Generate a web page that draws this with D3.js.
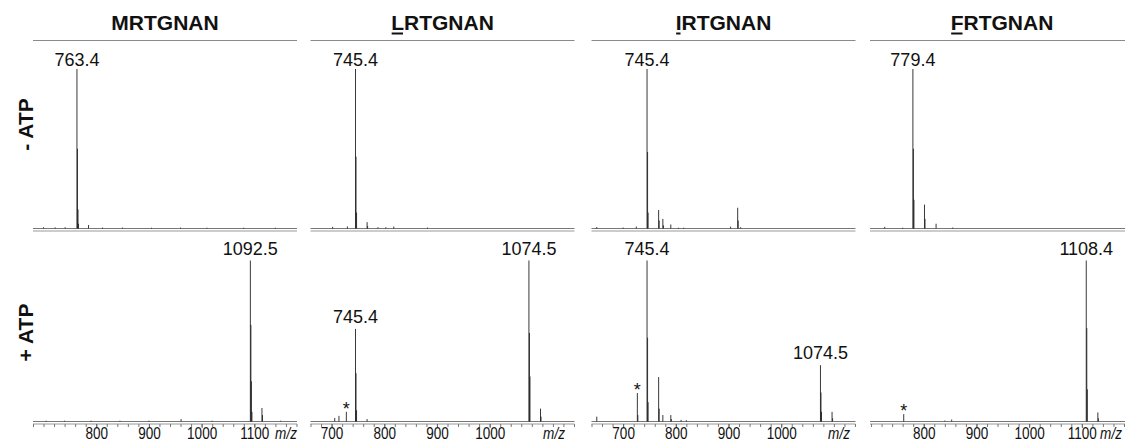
<!DOCTYPE html>
<html><head><meta charset="utf-8">
<script src="https://cdn.jsdelivr.net/npm/d3@7"></script>
<style>body{margin:0;background:#fff} svg{display:block}</style>
</head><body><svg id="c" width="1125" height="442"></svg>
<script>
// ---------- data ----------
const peptides = ["MRTGNAN", "LRTGNAN", "IRTGNAN", "FRTGNAN"];
const underlinedFirst = [false, true, true, true];
const conditions = ["- ATP", "+ ATP"];
const mzDomains = [[680, 1181], [660, 1161], [640, 1141], [698, 1199]];
const tickLabels = [[800, 900, 1000, 1100], [700, 800, 900, 1000], [700, 800, 900, 1000], [800, 900, 1000, 1100]];

// - ATP spectra (m/z, relative intensity %)
const mrtMinusMz  = [700, 722, 741, 763.4, 764.4, 765.4, 766.4, 785.4, 812, 850, 905, 960, 1010, 1080, 1140];
const mrtMinusInt = [0.8, 0.7, 0.8, 100, 50, 12, 3, 2.2, 0.6, 0.6, 0.5, 0.6, 0.5, 0.5, 0.5];
const lrtMinusMz  = [702, 730, 745.4, 746.4, 747.4, 767.4, 768.4, 788, 803, 818, 882];
const lrtMinusInt = [1, 1.3, 100, 45, 10, 4, 1.5, 0.8, 0.8, 1.2, 0.6];
const irtMinusMz  = [650, 700, 725, 745.4, 746.4, 747.4, 767.4, 768.4, 775.4, 776.4, 790.5, 805, 815, 904, 917.4, 918.4, 923];
const irtMinusInt = [0.9, 0.6, 1.2, 100, 48, 10, 11.6, 5, 6, 2, 2.5, 0.5, 0.5, 1.2, 13, 5, 0.8];
const frtMinusMz  = [726, 760, 779.4, 780.4, 781.4, 801.4, 802.4, 823.4, 855];
const frtMinusInt = [1, 0.5, 100, 50, 18, 15, 6, 3, 0.6];

// + ATP spectra
const mrtPlusMz  = [705, 740, 790, 845, 900, 961, 1020, 1092.5, 1093.5, 1094.5, 1095.5, 1114.5, 1115.5, 1150];
const mrtPlusInt = [0.5, 0.5, 0.5, 0.5, 0.5, 1.5, 0.5, 100, 60, 25, 6, 8.4, 4, 0.5];
const lrtPlusMz  = [706, 714, 728, 745.4, 746.4, 747.4, 767.4, 1074.5, 1075.5, 1076.5, 1096.5, 1097.5];
const lrtPlusInt = [2.2, 3.5, 6, 57.5, 30, 7, 1.5, 100, 55, 28, 8, 3];
const irtPlusMz  = [650, 727, 728, 745.4, 746.4, 747.4, 767.4, 768.4, 775.4, 790.5, 791.5, 810, 820, 1074.5, 1075.5, 1076.5, 1096.5, 1097.5];
const irtPlusInt = [3, 17.7, 4, 100, 52, 12, 27.6, 8, 4, 4, 1.5, 1, 0.8, 35, 18, 6, 6, 2];
const frtPlusMz  = [762, 840, 853, 1108.4, 1109.4, 1110.4, 1130.4, 1131.4];
const frtPlusInt = [4.6, 0.6, 1.2, 100, 58, 20, 5.6, 2];

// annotated peaks and starred peaks
const minusLabels = [[763.4], [745.4], [745.4], [779.4]];
const plusLabels  = [[1092.5], [745.4, 1074.5], [745.4, 1074.5], [1108.4]];
const plusStars   = [[], [728], [727], [762]];

const spectra = [
  [
    {mz: mrtMinusMz, int: mrtMinusInt, labels: minusLabels[0], stars: []},
    {mz: lrtMinusMz, int: lrtMinusInt, labels: minusLabels[1], stars: []},
    {mz: irtMinusMz, int: irtMinusInt, labels: minusLabels[2], stars: []},
    {mz: frtMinusMz, int: frtMinusInt, labels: minusLabels[3], stars: []}
  ],
  [
    {mz: mrtPlusMz, int: mrtPlusInt, labels: plusLabels[0], stars: plusStars[0]},
    {mz: lrtPlusMz, int: lrtPlusInt, labels: plusLabels[1], stars: plusStars[1]},
    {mz: irtPlusMz, int: irtPlusInt, labels: plusLabels[2], stars: plusStars[2]},
    {mz: frtPlusMz, int: frtPlusInt, labels: plusLabels[3], stars: plusStars[3]}
  ]
];

// ---------- layout ----------
const FONT = "'Liberation Sans', Arial, Helvetica, sans-serif";
const colLeft = [33, 310.5, 591.5, 870];
const panelW = 264;
const rowGeom = [
  {base: 228.5, top: 69, labelGap: 3},
  {base: 421.5, top: 260.5, labelGap: 6}
];
const mzLabelOffset = [253, 243.5, 247.5, 241];

const svg = d3.select("#c").style("font-family", FONT);

peptides.forEach((pep, c) => {
  const x = d3.scaleLinear().domain(mzDomains[c]).range([colLeft[c], colLeft[c] + panelW]);

  // header line and title
  svg.append("line")
    .attr("x1", colLeft[c]).attr("x2", colLeft[c] + panelW)
    .attr("y1", 40.5).attr("y2", 40.5)
    .attr("stroke", "#8a8a8a").attr("stroke-width", 1);
  const title = svg.append("text")
    .attr("x", colLeft[c] + panelW / 2).attr("y", 30)
    .attr("text-anchor", "middle")
    .attr("font-weight", "bold").attr("font-size", 21)
    .attr("fill", "#111")
    .text(pep);
  if (underlinedFirst[c]) {
    const ext = title.node().getExtentOfChar(0);
    svg.append("rect")
      .attr("x", ext.x + 0.5).attr("y", 32.5)
      .attr("width", ext.width - 1.5).attr("height", 2)
      .attr("fill", "#111");
  }

  rowGeom.forEach((rg, r) => {
    const y = d3.scaleLinear().domain([0, 100]).range([rg.base, rg.top]);
    const s = spectra[r][c];

    // double baseline
    svg.append("line")
      .attr("x1", colLeft[c]).attr("x2", colLeft[c] + panelW)
      .attr("y1", rg.base).attr("y2", rg.base)
      .attr("stroke", "#777").attr("stroke-width", 1);
    svg.append("line")
      .attr("x1", colLeft[c]).attr("x2", colLeft[c] + panelW)
      .attr("y1", rg.base + 2.5).attr("y2", rg.base + 2.5)
      .attr("stroke", "#999").attr("stroke-width", 1);

    // peaks
    const pts = d3.zip(s.mz, s.int);
    svg.append("g").selectAll("line").data(pts).join("line")
      .attr("x1", d => x(d[0])).attr("x2", d => x(d[0]))
      .attr("y1", rg.base).attr("y2", d => y(d[1]))
      .attr("stroke", "#222").attr("stroke-width", 0.9);

    // peak labels
    svg.append("g").selectAll("text").data(s.labels).join("text")
      .attr("x", d => x(d))
      .attr("y", d => y(s.int[s.mz.indexOf(d)]) - rg.labelGap)
      .attr("text-anchor", "middle")
      .attr("font-size", 18).attr("fill", "#111")
      .text(d => d.toFixed(1));

    // stars
    svg.append("g").selectAll("text").data(s.stars).join("text")
      .attr("x", d => x(d))
      .attr("y", d => y(s.int[s.mz.indexOf(d)]) + 3)
      .attr("text-anchor", "middle")
      .attr("font-size", 18).attr("fill", "#111")
      .text("*");

    if (r === 1) {
      const ay = rg.base + 2.5;
      const [d0, d1] = mzDomains[c];
      const minor = d3.range(Math.ceil(d0 / 20) * 20, d1, 20);
      const gMinor = svg.append("g").attr("transform", `translate(0,${ay})`)
        .call(d3.axisBottom(x).tickValues(minor).tickSize(3).tickFormat(""));
      gMinor.select(".domain").remove();
      gMinor.selectAll("line").attr("stroke", "#777");

      const gMajor = svg.append("g").attr("transform", `translate(0,${ay})`)
        .call(d3.axisBottom(x).tickValues(tickLabels[c]).tickSize(4).tickFormat(d3.format("d")));
      gMajor.select(".domain").remove();
      gMajor.selectAll("line").attr("stroke", "#666");
      gMajor.attr("font-family", FONT);
      gMajor.selectAll("text")
        .attr("y", 14.5).attr("dy", null)
        .attr("font-size", 16.5).attr("fill", "#111")
        .attr("transform", "scale(0.82,1)");

      svg.append("text")
        .attr("transform", `translate(${colLeft[c] + mzLabelOffset[c]},${ay + 14.5}) scale(0.82,1)`)
        .attr("text-anchor", "middle")
        .attr("font-size", 16.5).attr("font-style", "italic").attr("fill", "#111")
        .text("m/z");
    }
  });
});

// row labels
const rowCenters = [124.5, 332.5];
conditions.forEach((lab, r) => {
  svg.append("text")
    .attr("transform", `translate(33,${rowCenters[r]}) rotate(-90)`)
    .attr("text-anchor", "middle")
    .attr("font-weight", "bold").attr("font-size", 21).attr("fill", "#111")
    .text(lab);
});
</script>
</body></html>
